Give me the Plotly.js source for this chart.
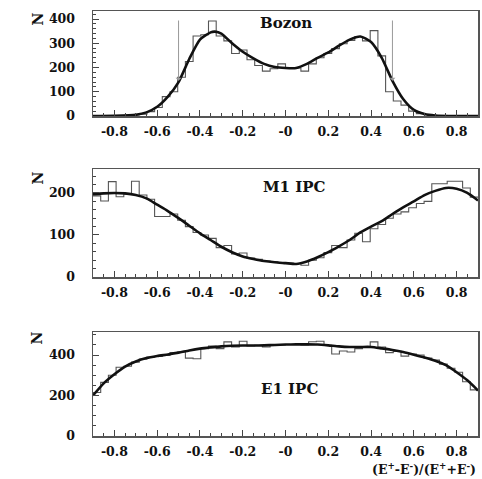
<!DOCTYPE html>
<html>
<head>
<meta charset="utf-8">
<script src="https://cdn.plot.ly/plotly-3.0.1.min.js"></script>
<style>html,body{margin:0;padding:0;background:#fff;}#chart{width:482px;height:479px;}</style>
</head>
<body>
<div id="chart"></div>
<script>
// ---- data ----
const binWidth = 0.036;
const binCenters = [-0.882,-0.846,-0.810,-0.774,-0.738,-0.702,-0.666,-0.630,-0.594,-0.558,
  -0.522,-0.486,-0.450,-0.414,-0.378,-0.342,-0.306,-0.270,-0.234,-0.198,
  -0.162,-0.126,-0.090,-0.054,-0.018,0.018,0.054,0.090,0.126,0.162,
  0.198,0.234,0.270,0.306,0.342,0.378,0.414,0.450,0.486,0.522,
  0.558,0.594,0.630,0.666,0.702,0.738,0.774,0.810,0.846,0.882];

const bozonHist = [0,0,1,1,2,4,8,18,35,80,
  100,160,225,330,335,392,330,310,258,272,
  232,208,185,195,215,200,198,185,215,240,
  258,278,298,312,328,310,352,248,100,62,
  45,20,10,5,2,1,1,0,0,0];
const bozonFitX = [-0.9,-0.8,-0.7,-0.65,-0.6,-0.55,-0.5,-0.45,-0.4,-0.35,-0.33,-0.3,-0.25,-0.2,-0.15,-0.1,-0.05,0,0.05,0.1,0.15,0.2,0.25,0.3,0.35,0.4,0.45,0.5,0.55,0.6,0.65,0.7,0.8,0.9];
const bozonFitY = [0,1,5,15,38,80,140,235,315,345,348,340,300,265,238,215,202,198,198,215,240,262,290,315,328,305,240,145,70,25,8,2,0,0];

const m1Hist = [193,181,227,191,197,228,195,185,144,144,
  150,135,120,106,100,92,70,75,55,57,
  45,42,38,36,34,33,32,28,40,46,
  58,75,70,88,104,84,115,125,140,150,
  155,165,175,180,222,222,228,228,212,190];
const m1FitX = [-0.9,-0.85,-0.8,-0.75,-0.7,-0.65,-0.6,-0.55,-0.5,-0.45,-0.4,-0.35,-0.3,-0.25,-0.2,-0.15,-0.1,-0.05,0,0.05,0.1,0.15,0.2,0.25,0.3,0.35,0.4,0.45,0.5,0.55,0.6,0.65,0.7,0.75,0.8,0.85,0.9];
const m1FitY = [197,199,200,199,195,187,172,157,140,122,104,88,72,59,49,43,38,35,33,31,37,47,59,73,88,106,120,133,150,166,180,195,205,212,210,200,182];

const e1Hist = [215,265,300,340,345,365,380,390,393,398,
  412,415,385,382,432,445,432,465,440,468,
  445,448,440,448,450,452,452,450,466,468,
  448,405,420,415,432,440,465,440,412,418,
  395,405,400,385,375,355,335,315,268,228];
const e1FitX = [-0.9,-0.85,-0.8,-0.75,-0.7,-0.65,-0.6,-0.55,-0.5,-0.45,-0.4,-0.35,-0.3,-0.25,-0.2,-0.15,-0.1,-0.05,0,0.05,0.1,0.15,0.2,0.25,0.3,0.35,0.4,0.45,0.5,0.55,0.6,0.65,0.7,0.75,0.8,0.85,0.9];
const e1FitY = [200,260,305,343,368,385,395,403,412,423,432,438,443,446,447,447,448,450,452,453,453,452,448,443,440,440,440,433,425,415,402,388,372,350,315,275,225];

const xTickVals = [-0.8,-0.6,-0.4,-0.2,0,0.2,0.4,0.6,0.8];
const xTickText = ['-0.8','-0.6','-0.4','-0.2','-0','0.2','0.4','0.6','0.8'];
const panelNames = ['Bozon','M1 IPC','E1 IPC'];
const arrowX = [-0.5, 0.5];
const xTitle = '(E<sup>+</sup>-E<sup>-</sup>)/(E<sup>+</sup>+E<sup>-</sup>)';

// ---- build ----
function stepXY(vals){
  const xs = binCenters.map(c => c - binWidth/2);
  xs.push(binCenters[binCenters.length-1] + binWidth/2);
  const ys = vals.slice(); ys.push(vals[vals.length-1]);
  return {x: xs, y: ys};
}
function minorVals(lo, hi, step){
  const out = [];
  for (let k = Math.ceil(lo/step - 1e-9); k*step <= hi + 1e-9; k++) out.push(+(k*step).toFixed(4));
  return out;
}
const FONT = 'DejaVu Serif, Liberation Serif, serif';
const histLine = {color:'#555', width:1.1, shape:'hv'};
const fitLine = {color:'#111', width:2.6, shape:'spline', smoothing:0.6};

const sets = [[bozonHist,bozonFitX,bozonFitY],[m1Hist,m1FitX,m1FitY],[e1Hist,e1FitX,e1FitY]];
const traces = [];
sets.forEach((s,i)=>{
  const ax = i===0 ? '' : String(i+1);
  const st = stepXY(s[0]);
  traces.push({x:st.x, y:st.y, type:'scatter', mode:'lines', line:histLine, xaxis:'x'+ax, yaxis:'y'+ax, hoverinfo:'skip'});
  traces.push({x:s[1], y:s[2], type:'scatter', mode:'lines', line:fitLine, xaxis:'x'+ax, yaxis:'y'+ax, hoverinfo:'skip'});
});

function xAxis(anchor){
  return {anchor:anchor, domain:[0,1], range:[-0.9,0.9], tickmode:'array', tickvals:xTickVals, ticktext:xTickText,
    ticks:'inside', ticklen:6, tickwidth:1, tickcolor:'#444', showgrid:false, zeroline:false,
    showline:true, mirror:true, linecolor:'#555', linewidth:1.5, ticklabelstandoff:3,
    tickfont:{family:FONT, size:12.5, color:'#111', weight:'bold'},
    minor:{tickmode:'array', tickvals:minorVals(-0.9,0.9,0.05), ticks:'inside', ticklen:3, tickwidth:1, tickcolor:'#444', showgrid:false}};
}
function yAxis(anchor, domain, range, minorD, tv){
  return {anchor:anchor, domain:domain, range:range, tickmode:'array', tickvals:tv, ticktext:tv.map(String),
    ticks:'inside', ticklen:6, tickwidth:1, tickcolor:'#444', showgrid:false, zeroline:false,
    showline:true, mirror:true, linecolor:'#555', linewidth:1.5, ticklabelstandoff:14,
    tickfont:{family:FONT, size:12.5, color:'#111', weight:'bold'},
    minor:{tickmode:'array', tickvals:minorVals(range[0],range[1],minorD), ticks:'inside', ticklen:3, tickwidth:1, tickcolor:'#444', showgrid:false}};
}

const annotations = [];
const labelPos = [[0.0, 385, 'y'],[0.04, 215, 'y2'],[0.02, 230, 'y3']];
panelNames.forEach((n,i)=>{
  annotations.push({text:n, x:labelPos[i][0], y:labelPos[i][1], xref:'x'+(i===0?'':i+1), yref:labelPos[i][2],
    showarrow:false, font:{family:FONT, size:15, color:'#111', weight:'bold'}});
});
const nY = [400, 236, 484];
nY.forEach((v,i)=>{
  annotations.push({text:'N', textangle:-90, x:-0.17, xref:'paper', y:v, yref:'y'+(i===0?'':i+1),
    showarrow:false, font:{family:FONT, size:14, color:'#111', weight:'bold'}});
});
arrowX.forEach(xv=>{
  annotations.push({x:xv, y:145, xref:'x', yref:'y', ax:xv, ay:400, axref:'x', ayref:'y',
    showarrow:true, arrowhead:1, arrowsize:1, arrowwidth:1, arrowcolor:'#999', text:''});
});
annotations.push({text:xTitle, x:1.0, xref:'paper', xanchor:'right', y:-0.078, yref:'paper', yanchor:'middle',
  showarrow:false, font:{family:FONT, size:12.5, color:'#111', weight:'bold'}});

const layout = {
  width:482, height:479, margin:{l:93, r:4, t:11, b:43},
  paper_bgcolor:'#fff', plot_bgcolor:'#fff', showlegend:false,
  xaxis: xAxis('y'), xaxis2: xAxis('y2'), xaxis3: xAxis('y3'),
  yaxis: yAxis('x', [0.7529,1.0], [0,433], 20, [0,100,200,300,400]),
  yaxis2: yAxis('x2', [0.3741,0.6282], [0,257], 20, [0,100,200]),
  yaxis3: yAxis('x3', [0,0.2447], [0,514], 50, [0,200,400]),
  annotations: annotations
};
Plotly.newPlot('chart', traces, layout, {staticPlot:true, displayModeBar:false});
</script>
</body>
</html>
